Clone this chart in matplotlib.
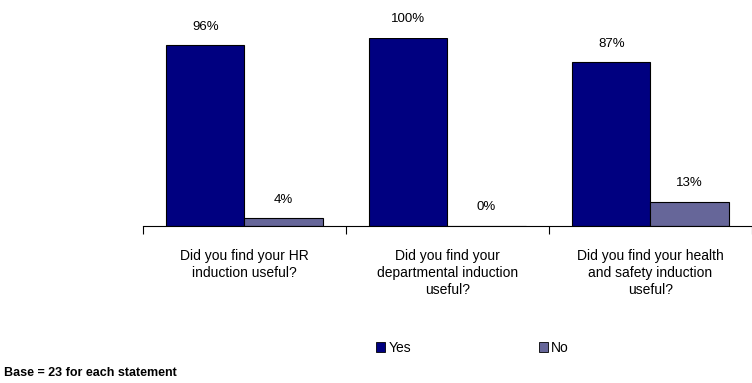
import numpy as np
import matplotlib.pyplot as plt
from matplotlib.patches import Patch

plt.rcParams['font.family'] = ['Liberation Sans', 'DejaVu Sans']

categories = ['Did you find your HR\ninduction useful?',
              'Did you find your\ndepartmental induction\nuseful?',
              'Did you find your health\nand safety induction\nuseful?']
yes_vals = [96, 100, 87]
no_vals = [4, 0, 13]
yes_color = '#000080'
no_color = '#666699'

fig = plt.figure(figsize=(7.52, 3.83), dpi=100)
ax = fig.add_axes([0.19, 0.41, 0.81, 0.491])

x = np.arange(len(categories))
w = 0.385
b1 = ax.bar(x - w / 2, yes_vals, w, color=yes_color, edgecolor='black', linewidth=0.8)
b2 = ax.bar(x + w / 2, no_vals, w, color=no_color, edgecolor='black', linewidth=0.8)

for bars in (b1, b2):
    for r in bars:
        h = r.get_height()
        ax.annotate(f'{h:.0f}%', (r.get_x() + r.get_width() / 2, h),
                    xytext=(0, 9), textcoords='offset points',
                    ha='center', va='bottom', fontsize=9.5)

ax.set_xlim(-0.5, 2.5)
ax.set_ylim(0, 100)
for s in ['top', 'right', 'left']:
    ax.spines[s].set_visible(False)
ax.spines['bottom'].set_linewidth(0.8)
ax.set_yticks([])
ax.set_xticks([-0.5, 0.5, 1.5, 2.5])
ax.set_xticklabels([])
ax.tick_params(axis='x', length=6, width=0.8, direction='out')
for i, c in enumerate(categories):
    ax.text(i, -12, c, ha='center', va='top', fontsize=10, linespacing=1.3)

handles = [Patch(facecolor=yes_color, edgecolor='black', linewidth=0.6),
           Patch(facecolor=no_color, edgecolor='black', linewidth=0.6)]
fig.legend(handles, ['Yes', 'No'], loc='center', bbox_to_anchor=(0.628, 0.092),
           ncol=2, frameon=False, fontsize=10, handlelength=0.65, handleheight=0.65,
           handletextpad=0.2, columnspacing=9.2)

fig.text(0.005, 0.01, 'Base = 23 for each statement', fontsize=9,
         fontweight='bold', ha='left', va='bottom')

fig.savefig('out.png', dpi=100)
